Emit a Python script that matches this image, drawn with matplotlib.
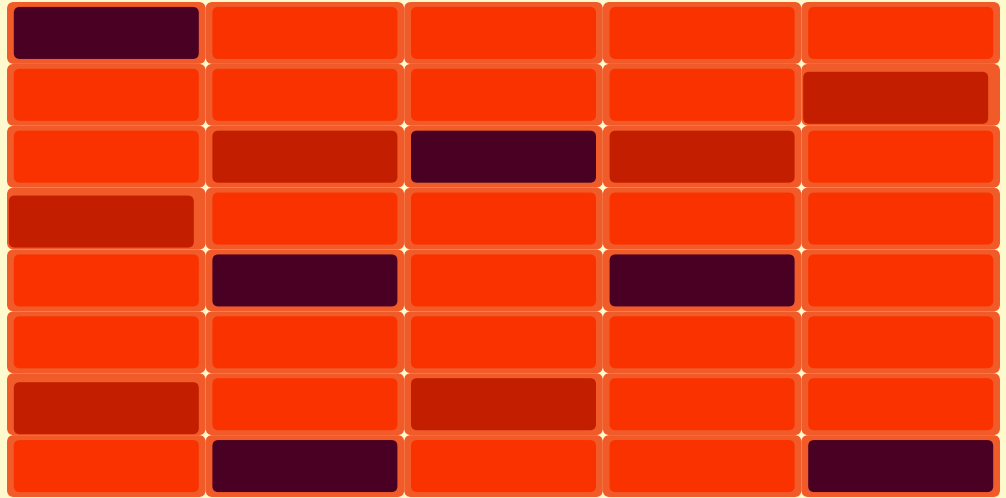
import matplotlib
matplotlib.use("Agg")
import matplotlib.pyplot as plt
from matplotlib.patches import FancyBboxPatch

# level of each cell: 0 = low, 1 = mid, 2 = high  (8 rows x 5 columns)
row0 = [2, 0, 0, 0, 0]
row1 = [0, 0, 0, 0, 1]
row2 = [0, 1, 2, 1, 0]
row3 = [1, 0, 0, 0, 0]
row4 = [0, 2, 0, 2, 0]
row5 = [0, 0, 0, 0, 0]
row6 = [1, 0, 1, 0, 0]
row7 = [0, 2, 0, 0, 2]
levels = [row0, row1, row2, row3, row4, row5, row6, row7]

level_colors = ["#fa3200", "#c41e00", "#4a0022"]
cell_color = "#f15a29"
bg = "#fffacd"

# a few tiles sit slightly off-centre (row, col) -> (dx px, dy px)
nudges = {(1, 4): (-5, 3), (3, 0): (-5, 3), (6, 0): (0, 4)}

W, H = 1006, 498
fig = plt.figure(figsize=(W / 100, H / 100), dpi=100, facecolor=bg)
left, right, top, bottom = 7, 1000, 2, 497
ax = fig.add_axes([left / W, 1 - bottom / H, (right - left) / W, (bottom - top) / H])
ax.set_facecolor(bg)
nrows, ncols = len(levels), len(levels[0])
ax.set_xlim(0, ncols)
ax.set_ylim(nrows, 0)
ax.axis("off")

px_x = (right - left) / ncols   # pixels per column
px_y = (bottom - top) / nrows   # pixels per row
aspect = px_x / px_y

for r, row in enumerate(levels):
    for c, v in enumerate(row):
        outer = FancyBboxPatch((c, r), 1, 1,
                               boxstyle="round,pad=0,rounding_size=%f" % (7 / px_x),
                               mutation_aspect=aspect,
                               facecolor=cell_color, edgecolor="none")
        ax.add_patch(outer)
        w, h = 185 / px_x, 52 / px_y
        dx, dy = nudges.get((r, c), (0, 0))
        x0 = c + (1 - w) / 2 + dx / px_x
        y0 = r + (1 - h) / 2 + dy / px_y
        inner = FancyBboxPatch((x0, y0), w, h,
                               boxstyle="round,pad=0,rounding_size=%f" % (6 / px_x),
                               mutation_aspect=aspect,
                               facecolor=level_colors[v], edgecolor="none")
        ax.add_patch(inner)

fig.savefig("out.png", dpi=100, facecolor=bg)
